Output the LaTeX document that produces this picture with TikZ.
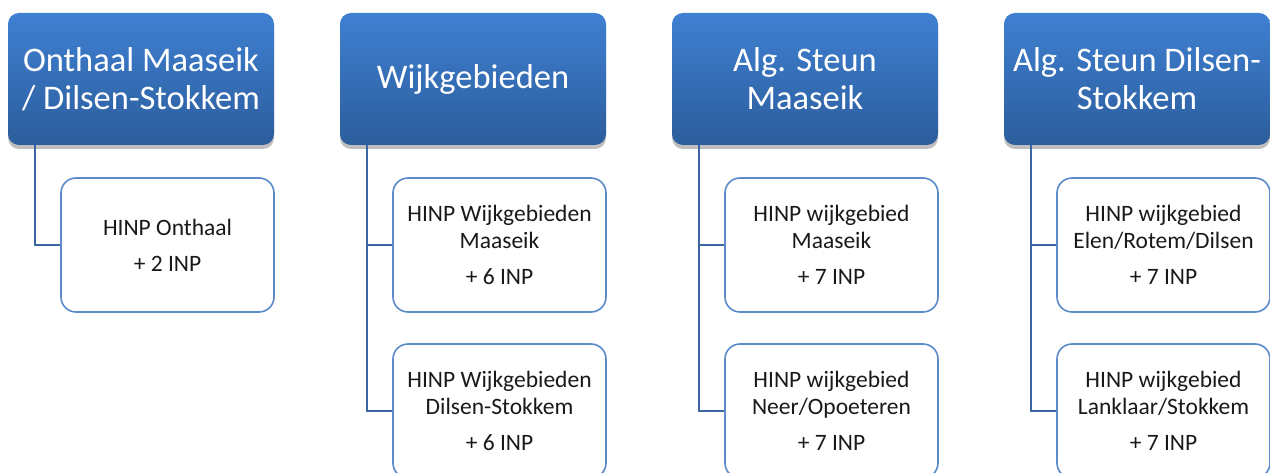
\documentclass[tikz,border=0pt]{standalone}
\usepackage{fontspec}
\setmainfont{Carlito}
\usetikzlibrary{shadows}
\definecolor{htop}{HTML}{3F80D2}
\definecolor{hbot}{HTML}{2C5D9C}
\definecolor{cborder}{HTML}{5B8BC9}
\definecolor{conn}{HTML}{3A66A2}
\tikzset{
  header/.style={rounded corners=11pt, minimum width=266pt, minimum height=132pt,
    top color=htop, bottom color=hbot, draw=none, text=white, align=center,
    font=\fontsize{34.5}{38}\selectfont, inner sep=0pt,
    drop shadow={shadow xshift=0pt, shadow yshift=-4pt, opacity=0.25, fill=black}},
  child/.style={rounded corners=15pt, minimum width=213pt, minimum height=134pt,
    draw=cborder, line width=1.6pt, fill=white, align=center, text=black!90,
    font=\fontsize{23.5}{27}\selectfont, inner sep=0pt},
  conn/.style={draw=conn, line width=1.8pt}
}
\begin{document}
\begin{tikzpicture}[x=1pt,y=-1pt]
\useasboundingbox (0,0) rectangle (1270,473);
% headers
\node[header] (h1) at (141,79) {Onthaal Maaseik\\/ Dilsen-Stokkem};
\node[header] (h2) at (473,79) {Wijkgebieden};
\node[header] (h3) at (805,79) {Alg. Steun\\Maaseik};
\node[header] (h4) at (1137,79) {Alg. Steun Dilsen-\\Stokkem};
% children
\node[child] (c1) at (167.5,245) {HINP Onthaal\\[9pt]+ 2 INP};
\node[child] (c2a) at (499.5,245) {HINP Wijkgebieden\\Maaseik\\[9pt]+ 6 INP};
\node[child] (c2b) at (499.5,411) {HINP Wijkgebieden\\Dilsen-Stokkem\\[9pt]+ 6 INP};
\node[child] (c3a) at (831.5,245) {HINP wijkgebied\\Maaseik\\[9pt]+ 7 INP};
\node[child] (c3b) at (831.5,411) {HINP wijkgebied\\Neer/Opoeteren\\[9pt]+ 7 INP};
\node[child] (c4a) at (1163.5,245) {HINP wijkgebied\\Elen/Rotem/Dilsen\\[9pt]+ 7 INP};
\node[child] (c4b) at (1163.5,411) {HINP wijkgebied\\Lanklaar/Stokkem\\[9pt]+ 7 INP};
% connectors
\draw[conn] ([xshift=27pt]h1.south west) |- (c1.west);
\draw[conn] ([xshift=27pt]h2.south west) |- (c2a.west);
\draw[conn] ([xshift=27pt]h2.south west) |- (c2b.west);
\draw[conn] ([xshift=27pt]h3.south west) |- (c3a.west);
\draw[conn] ([xshift=27pt]h3.south west) |- (c3b.west);
\draw[conn] ([xshift=27pt]h4.south west) |- (c4a.west);
\draw[conn] ([xshift=27pt]h4.south west) |- (c4b.west);
\end{tikzpicture}
\end{document}
